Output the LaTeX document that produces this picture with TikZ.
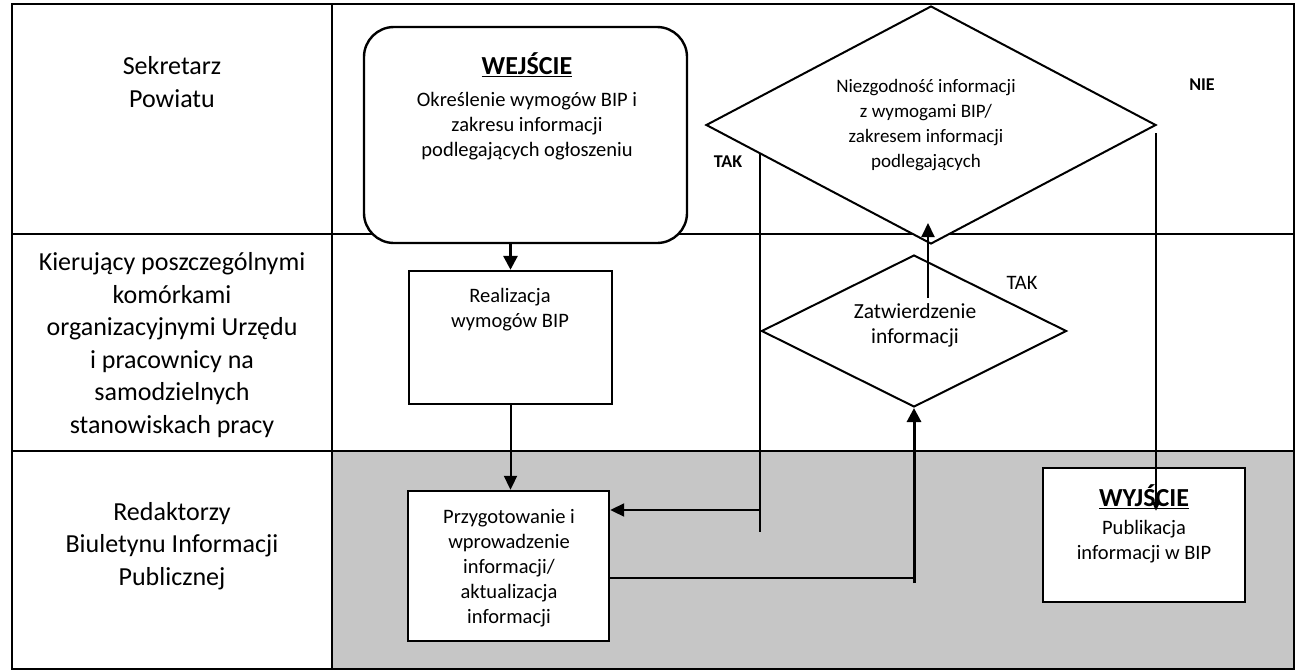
\documentclass[tikz,border=0pt]{standalone}
\usepackage{fontspec}
\setmainfont{Carlito}
\usetikzlibrary{shapes.geometric,arrows.meta,calc}
\newcommand\hdfont{\bfseries\fontsize{26}{30}\selectfont}
\begin{document}
\begin{tikzpicture}[x=1pt,y=-1pt,
  lane/.style={line width=2.2pt},
  lbl/.style={align=center,inner sep=0pt,font=\fontsize{26}{32.5}\selectfont},
  txt/.style={align=center,inner sep=0pt,font=\fontsize{20.5}{25}\selectfont},
  dtxt/.style={align=center,inner sep=0pt,font=\fontsize{19}{25}\selectfont},
  yn/.style={inner sep=0pt,font=\bfseries\fontsize{18}{20}\selectfont},
  box/.style={draw,line width=2.4pt,fill=white,inner sep=0pt},
  dia/.style={draw,shape=diamond,line width=2pt,fill=white,inner sep=0pt},
  link/.style={line width=2pt},
  arr/.style={line width=2pt,-{Triangle[length=14pt,width=13pt]}},
  thickarr/.style={line width=3pt,-{Triangle[length=14pt,width=14pt]}},
  smallarr/.style={line width=2pt,-{Triangle[length=9pt,width=8pt]}}]
\useasboundingbox (0,0) rectangle (1302,672);
% lanes
\fill[gray!45] (332,451) rectangle (1294,669);
\draw[lane] (12,4) rectangle (1294,669);
\draw[lane] (332,4) -- (332,669);
\draw[lane] (12,234) -- (1294,234);
\draw[lane] (12,451) -- (1294,451);
% lane labels
\node[lbl] (l1) at (172,82) {Sekretarz\\Powiatu};
\node[lbl] (l2) at (172,345) {Kierujący poszczególnymi\\komórkami\\organizacyjnymi Urzędu\\i pracownicy na\\samodzielnych\\stanowiskach pracy};
\node[lbl] (l3) at (172,546) {Redaktorzy\\Biuletynu Informacji\\Publicznej};
% boxes
\node[box,rounded corners=30pt,minimum width=323pt,minimum height=216pt] (wej) at (525.5,135) {};
\node[txt] (wejt) at (527,106) {\underline{\hdfont WEJŚCIE}\\[7pt]Określenie wymogów BIP i\\zakresu informacji\\podlegających ogłoszeniu};
\node[box,minimum width=203pt,minimum height=133pt] (real) at (510.5,337.5) {};
\node[txt] (realt) at (510,310) {Realizacja\\wymogów BIP};
\node[box,minimum width=201pt,minimum height=150pt] (przyg) at (508.5,566) {};
\node[txt] (przygt) at (509,568) {Przygotowanie i\\wprowadzenie\\informacji/\\aktualizacja\\informacji};
\node[box,minimum width=202pt,minimum height=134pt] (wyj) at (1144,535) {};
\node[txt] (wyjt) at (1144,524) {\underline{\hdfont WYJŚCIE}\\[3pt]Publikacja\\informacji w BIP};
% diamonds
\node[dia,aspect=1.9,minimum width=450pt,minimum height=238pt] (nie) at (931,125) {};
\node[dtxt] (niet) at (926,125) {Niezgodność informacji\\z wymogami BIP/\\zakresem informacji\\podlegających};
\node[dia,aspect=2,minimum width=305pt,minimum height=152pt] (zat) at (914,331) {};
\node[txt,font=\fontsize{21.5}{25}\selectfont] (zatt) at (915,325) {Zatwierdzenie\\informacji};
% labels
\node[yn] (tak1) at (728,162) {TAK};
\node[yn] (nie1) at (1202,85) {NIE};
\node[inner sep=0pt,font=\fontsize{20.5}{24}\selectfont] (tak2) at (1022,283) {TAK};
% connectors
\draw[thickarr] (wej.south -| real.north) -- (real.north);
\draw[arr] (real.south) -- (przyg.north -| real.south);
\coordinate (takA) at ($(nie.west)!0.245!(nie.south)$);
\draw[link] (takA) -- (takA |- 0,532);
\draw[arr] (takA |- 0,510) -- (przyg.east |- 0,510);
\draw[link] (przyg.east |- 0,578) -- (zat.south |- 0,578);
\draw[thickarr] (zat.south |- 0,583) -- (zat.south);
\draw[arr] ($(zat.center)+(14,-33)$) -- ($(nie.south)+(-3,-22)$);
\draw[smallarr] ($(nie.east)+(-1,8)$) -- ($(wyj.north -| nie.east)+(-1,44)$);
\end{tikzpicture}
\end{document}
